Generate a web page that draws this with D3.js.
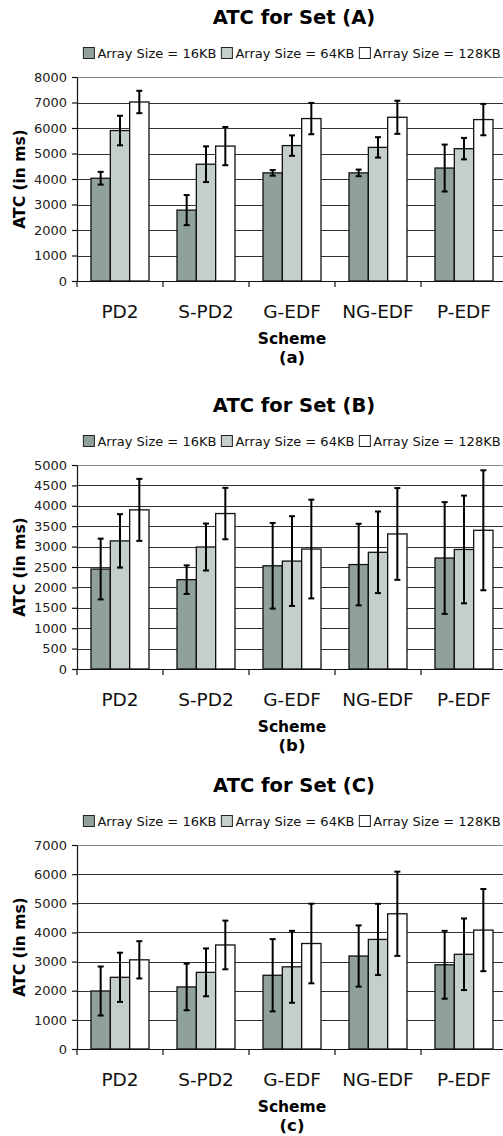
<!DOCTYPE html>
<html><head><meta charset="utf-8">
<script src="https://cdn.jsdelivr.net/npm/d3@7"></script>
<style>
html,body{margin:0;padding:0;background:#fff;}
svg{display:block;font-family:"DejaVu Sans",Verdana,sans-serif;}
</style></head>
<body>
<svg id="c" width="503" height="1136"></svg>
<script>
const categories = ["PD2", "S-PD2", "G-EDF", "NG-EDF", "P-EDF"];
const seriesNames = ["Array Size = 16KB", "Array Size = 64KB", "Array Size = 128KB"];
const seriesColors = ["#8fa09d", "#c4cfcd", "#ffffff"];

const setA_16 = [4030, 2780, 4240, 4240, 4430];
const setA_16_err = [250, 590, 110, 130, 920];
const setA_64 = [5900, 4580, 5310, 5240, 5190];
const setA_64_err = [580, 700, 400, 400, 420];
const setA_128 = [7020, 5290, 6370, 6420, 6330];
const setA_128_err = [440, 750, 615, 650, 615];

const setB_16 = [2450, 2190, 2530, 2560, 2720];
const setB_16_err = [745, 350, 1050, 1000, 1370];
const setB_64 = [3140, 2990, 2645, 2860, 2930];
const setB_64_err = [655, 575, 1100, 1000, 1320];
const setB_128 = [3900, 3810, 2940, 3310, 3400];
const setB_128_err = [760, 630, 1210, 1125, 1470];

const setC_16 = [1990, 2130, 2530, 3190, 2890];
const setC_16_err = [840, 800, 1240, 1050, 1165];
const setC_64 = [2460, 2630, 2820, 3760, 3250];
const setC_64_err = [845, 820, 1234, 1222, 1228];
const setC_128 = [3060, 3570, 3620, 4640, 4080];
const setC_128_err = [640, 835, 1366, 1445, 1411];

const ticksA = [0, 1000, 2000, 3000, 4000, 5000, 6000, 7000, 8000];
const ticksB = [0, 500, 1000, 1500, 2000, 2500, 3000, 3500, 4000, 4500, 5000];
const ticksC = [0, 1000, 2000, 3000, 4000, 5000, 6000, 7000];

const charts = [
  {title: "ATC for Set (A)", sub: "(a)", top: 77, ticks: ticksA,
   values: [setA_16, setA_64, setA_128], errs: [setA_16_err, setA_64_err, setA_128_err]},
  {title: "ATC for Set (B)", sub: "(b)", top: 465, ticks: ticksB,
   values: [setB_16, setB_64, setB_128], errs: [setB_16_err, setB_64_err, setB_128_err]},
  {title: "ATC for Set (C)", sub: "(c)", top: 845, ticks: ticksC,
   values: [setC_16, setC_64, setC_128], errs: [setC_16_err, setC_64_err, setC_128_err]}
];

const svg = d3.select("#c");
const left = 77, bandW = 86, plotH = 204, centerX = 292;

charts.forEach(cfg => {
  const g = svg.append("g");
  const top = cfg.top, bottom = top + plotH;
  const x0 = d3.scaleBand().domain(categories).range([left, left + bandW * categories.length]);
  const x1 = d3.scaleBand().domain(seriesNames).range([14, bandW - 14]);
  const y = d3.scaleLinear().domain([0, d3.max(cfg.ticks)]).range([bottom, top]);

  // gridlines
  g.append("g").selectAll("line").data(cfg.ticks.filter(t => t > 0)).join("line")
    .attr("x1", left).attr("x2", 503)
    .attr("y1", d => Math.round(y(d)) + 0.5).attr("y2", d => Math.round(y(d)) + 0.5)
    .attr("stroke", d => d === d3.max(cfg.ticks) ? "#7d8886" : "#333").attr("stroke-width", 1.2);

  // bars
  cfg.values.forEach((vals, si) => {
    const bg = g.append("g");
    bg.selectAll("rect").data(vals).join("rect")
      .attr("x", (d, i) => x0(categories[i]) + x1(seriesNames[si]))
      .attr("y", d => y(d))
      .attr("width", x1.bandwidth())
      .attr("height", d => bottom - y(d))
      .attr("fill", seriesColors[si])
      .attr("stroke", "#111").attr("stroke-width", 1.3);
  });

  // error bars
  cfg.values.forEach((vals, si) => {
    const eg = g.append("g").attr("stroke", "#000").attr("stroke-width", 2);
    vals.forEach((v, i) => {
      const e = cfg.errs[si][i];
      const cx = x0(categories[i]) + x1(seriesNames[si]) + x1.bandwidth() / 2;
      eg.append("line").attr("x1", cx).attr("x2", cx).attr("y1", y(v + e)).attr("y2", y(v - e));
      eg.append("line").attr("x1", cx - 3).attr("x2", cx + 3).attr("y1", y(v + e)).attr("y2", y(v + e));
      eg.append("line").attr("x1", cx - 3).attr("x2", cx + 3).attr("y1", y(v - e)).attr("y2", y(v - e));
    });
  });

  // y axis
  const ya = g.append("g").attr("transform", `translate(${left},0)`)
    .call(d3.axisLeft(y).tickValues(cfg.ticks).tickFormat(d3.format("d"))
      .tickSize(5).tickPadding(5).tickSizeOuter(0));
  ya.select(".domain").attr("stroke", "#111").attr("stroke-width", 1.2);
  ya.selectAll(".tick line").attr("stroke", "#111").attr("stroke-width", 1.2);
  ya.selectAll(".tick text").attr("font-size", 13).attr("font-family", "DejaVu Sans").attr("fill", "#222");

  // x axis
  const xa = g.append("g").attr("transform", `translate(0,${bottom})`);
  xa.append("line").attr("x1", left).attr("x2", 503).attr("y1", 0.5).attr("y2", 0.5)
    .attr("stroke", "#111").attr("stroke-width", 1.2);
  xa.selectAll("line.tk").data(categories).join("line").attr("class", "tk")
    .attr("x1", d => x0(d)).attr("x2", d => x0(d)).attr("y1", 0).attr("y2", 6)
    .attr("stroke", "#111").attr("stroke-width", 1.2);
  xa.selectAll("text").data(categories).join("text")
    .attr("x", d => x0(d) + x0.bandwidth() / 2).attr("y", 37)
    .attr("text-anchor", "middle").attr("font-size", 18.5).attr("fill", "#111").text(d => d);

  // titles
  g.append("text").attr("x", 294).attr("y", top - 53).attr("text-anchor", "middle")
    .attr("font-size", 19.5).attr("font-weight", "bold").attr("fill", "#000").text(cfg.title);
  g.append("text").attr("x", centerX).attr("y", bottom + 63).attr("text-anchor", "middle")
    .attr("font-size", 15.5).attr("font-weight", "bold").attr("fill", "#000").text("Scheme");
  g.append("text").attr("x", centerX).attr("y", bottom + 82).attr("text-anchor", "middle")
    .attr("font-size", 16.5).attr("font-weight", "bold").attr("fill", "#000").text(cfg.sub);
  g.append("text").attr("transform", `translate(25,${(top + bottom) / 2}) rotate(-90)`)
    .attr("text-anchor", "middle").attr("font-size", 15.5).attr("font-weight", "bold")
    .attr("fill", "#000").text("ATC (in ms)");

  // legend
  const lg = g.append("g");
  let lx = 0;
  seriesNames.forEach((s, i) => {
    const it = lg.append("g");
    it.append("rect").attr("x", 0).attr("y", -10.5).attr("width", 11).attr("height", 11)
      .attr("fill", seriesColors[i]).attr("stroke", "#222").attr("stroke-width", 1);
    const t = it.append("text").attr("x", 14).attr("y", 0).attr("font-size", 13)
      .attr("fill", "#111").text(s);
    const w = 14 + t.node().getComputedTextLength();
    it.attr("transform", `translate(${lx},0)`);
    lx += w + 5;
  });
  const total = lx - 5;
  lg.attr("transform", `translate(${centerX - total / 2},${top - 19})`);
});
</script>
</body></html>
